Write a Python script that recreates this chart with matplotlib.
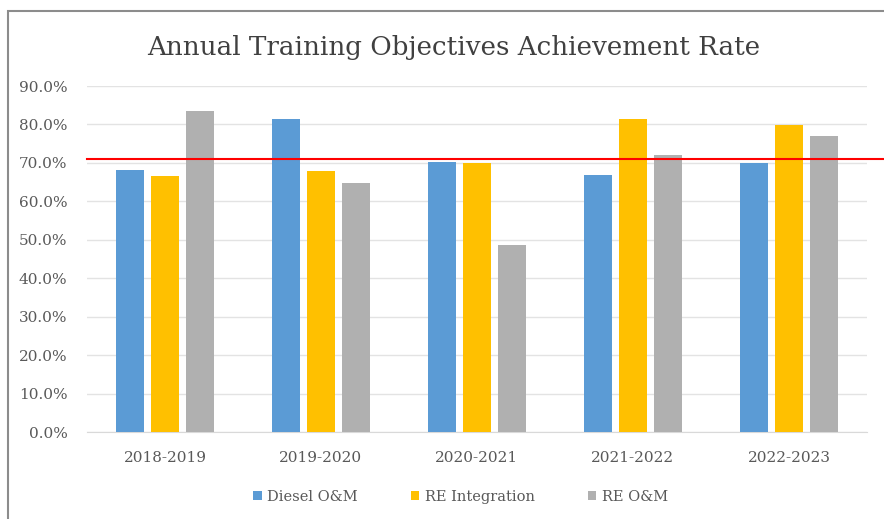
import matplotlib
matplotlib.use("Agg")
import matplotlib.pyplot as plt
from matplotlib.patches import Rectangle
import numpy as np

categories = ["2018-2019", "2019-2020", "2020-2021", "2021-2022", "2022-2023"]
diesel_om = [68.2, 81.3, 70.2, 66.9, 70.1]
re_integration = [66.7, 67.8, 70.0, 81.4, 79.8]
re_om = [83.4, 64.8, 48.7, 72.0, 76.9]
target = 71.0
series_names = ["Diesel O&M", "RE Integration", "RE O&M"]
colors = ["#5B9BD5", "#FFC000", "#B0B0B0"]

plt.rcParams["font.family"] = ["DejaVu Serif"]

fig = plt.figure(figsize=(8.84, 5.19), dpi=100)
fig.patches.append(Rectangle((8 / 884, -0.1), 1.2, (1 - 11 / 519) + 0.1,
                             transform=fig.transFigure, fill=False,
                             edgecolor="#8C8C8C", linewidth=1.5))

ax = fig.add_axes([87 / 884, 1 - 432 / 519, 780 / 884, 346 / 519])
x = np.arange(len(categories))
width = 0.175
offset = 0.225
for i, (vals, name, c) in enumerate(zip([diesel_om, re_integration, re_om], series_names, colors)):
    ax.bar(x + (i - 1) * offset, vals, width, color=c, label=name, zorder=3)

ax.axhline(target, xmin=0, xmax=1.03, color="#FF0000", linewidth=1.5, clip_on=False, zorder=4)

ax.set_xlim(-0.5, len(categories) - 0.5)
ax.set_ylim(0, 90)
ax.set_yticks(np.arange(0, 91, 10))
ax.set_yticklabels([f"{v:.1f}%" for v in np.arange(0, 91, 10)])
ax.set_xticks(x)
ax.set_xticklabels(categories)
ax.tick_params(axis="both", length=0, labelsize=11, colors="#595959")
ax.tick_params(axis="y", pad=14)
ax.tick_params(axis="x", pad=14)
ax.grid(axis="y", color="#E3E3E3", linewidth=1, zorder=0)
for s in ["top", "right", "left"]:
    ax.spines[s].set_visible(False)
ax.spines["bottom"].set_color("#D9D9D9")

fig.text(0.513, 1 - 47 / 519, "Annual Training Objectives Achievement Rate",
         ha="center", va="center", fontsize=18.8, color="#404040")

fig.legend(loc="center", bbox_to_anchor=(0.521, 1 - 497 / 519), ncol=3, frameon=False,
           fontsize=10.5, handlelength=0.6, handleheight=0.6, handletextpad=0.4,
           columnspacing=3.6, labelcolor="#595959")

fig.savefig("out.png", dpi=100)
